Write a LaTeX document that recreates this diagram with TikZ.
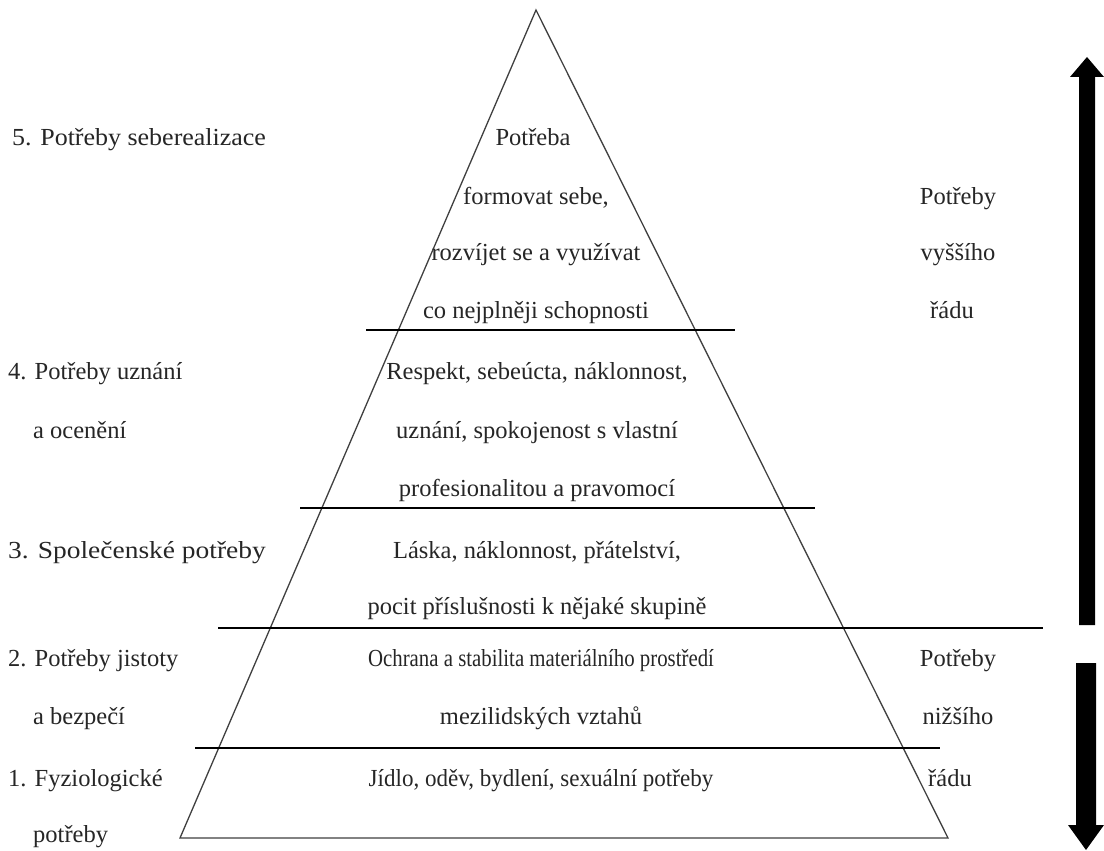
\documentclass[tikz,border=0pt]{standalone}
\usepackage{fontspec}
\setmainfont{Liberation Serif}
\begin{document}
\begin{tikzpicture}[x=1pt,y=-1pt,
  txt/.style={font=\fontsize{24.5}{29}\selectfont, inner sep=0pt, text=black!85},
  lbl/.style={txt, anchor=base west},
  ctr/.style={txt, anchor=base},
  tri/.style={line width=1.3pt, black!75},
  sep/.style={line width=1.3pt, black},
  bigarrow/.style={fill=black, draw=none}]
\useasboundingbox[fill=white] (0,0) rectangle (1104,851);
% pyramid
\coordinate (apex) at (536,10);
\coordinate (bl) at (180,838);
\coordinate (br) at (948,838);
\draw[tri] (apex) -- (bl) -- (br) -- cycle;
% separators
\coordinate (s1a) at (366,330); \coordinate (s1b) at (735,330);
\coordinate (s2a) at (300,508); \coordinate (s2b) at (815,508);
\coordinate (s3a) at (218,628); \coordinate (s3b) at (1043,628);
\coordinate (s4a) at (195,748); \coordinate (s4b) at (940,748);
\draw[sep] (s1a) -- (s1b);
\draw[sep] (s2a) -- (s2b);
\draw[sep] (s3a) -- (s3b);
\draw[sep] (s4a) -- (s4b);
% left labels
\node[lbl] (l5) at (12,145) {\scalebox{1.06}[1]{5. Potřeby seberealizace}};
\node[lbl] (l4a) at (8,379) {4. Potřeby uznání};
\node[lbl] (l4b) at (33,438) {a ocenění};
\node[lbl] (l3) at (8,558) {\scalebox{1.12}[1]{3. Společenské potřeby}};
\node[lbl] (l2a) at (8,666) {2. Potřeby jistoty};
\node[lbl] (l2b) at (33,724) {a bezpečí};
\node[lbl] (l1a) at (8,786) {1. Fyziologické};
\node[lbl] (l1b) at (33,842) {potřeby};
% centre texts
\node[ctr] (c1) at (533,145) {Potřeba};
\node[ctr] (c2) at (536,204) {formovat sebe,};
\node[ctr] (c3) at (536,260) {rozvíjet se a využívat};
\node[ctr] (c4) at (536,318) {co nejplněji schopnosti};
\node[ctr] (c5) at (537,379) {Respekt, sebeúcta, náklonnost,};
\node[ctr] (c6) at (537,438) {uznání, spokojenost s vlastní};
\node[ctr] (c7) at (537,496) {profesionalitou a pravomocí};
\node[ctr] (c8) at (537,558) {Láska, náklonnost, přátelství,};
\node[ctr] (c9) at (537,614) {pocit příslušnosti k nějaké skupině};
\node[ctr] (c10) at (541,666) {\scalebox{0.85}[1]{Ochrana a stabilita materiálního prostředí}};
\node[ctr] (c11) at (541,724) {mezilidských vztahů};
\node[ctr] (c12) at (541,786) {\scalebox{0.94}[1]{Jídlo, oděv, bydlení, sexuální potřeby}};
% right texts
\node[ctr] (r1) at (958,204) {Potřeby};
\node[ctr] (r2) at (958,260) {vyššího};
\node[ctr] (r3) at (952,318) {řádu};
\node[ctr] (r4) at (958,666) {Potřeby};
\node[ctr] (r5) at (958,724) {nižšího};
\node[ctr] (r6) at (950,786) {řádu};
% arrows
\fill[bigarrow] (1079,625) -- (1079,77) -- (1070,77) -- (1087,57) -- (1104,77) -- (1095,77) -- (1095,625) -- cycle;
\fill[bigarrow] (1076,663) -- (1076,825) -- (1068,825) -- (1086,850) -- (1104,825) -- (1096,825) -- (1096,663) -- cycle;
\end{tikzpicture}
\end{document}
